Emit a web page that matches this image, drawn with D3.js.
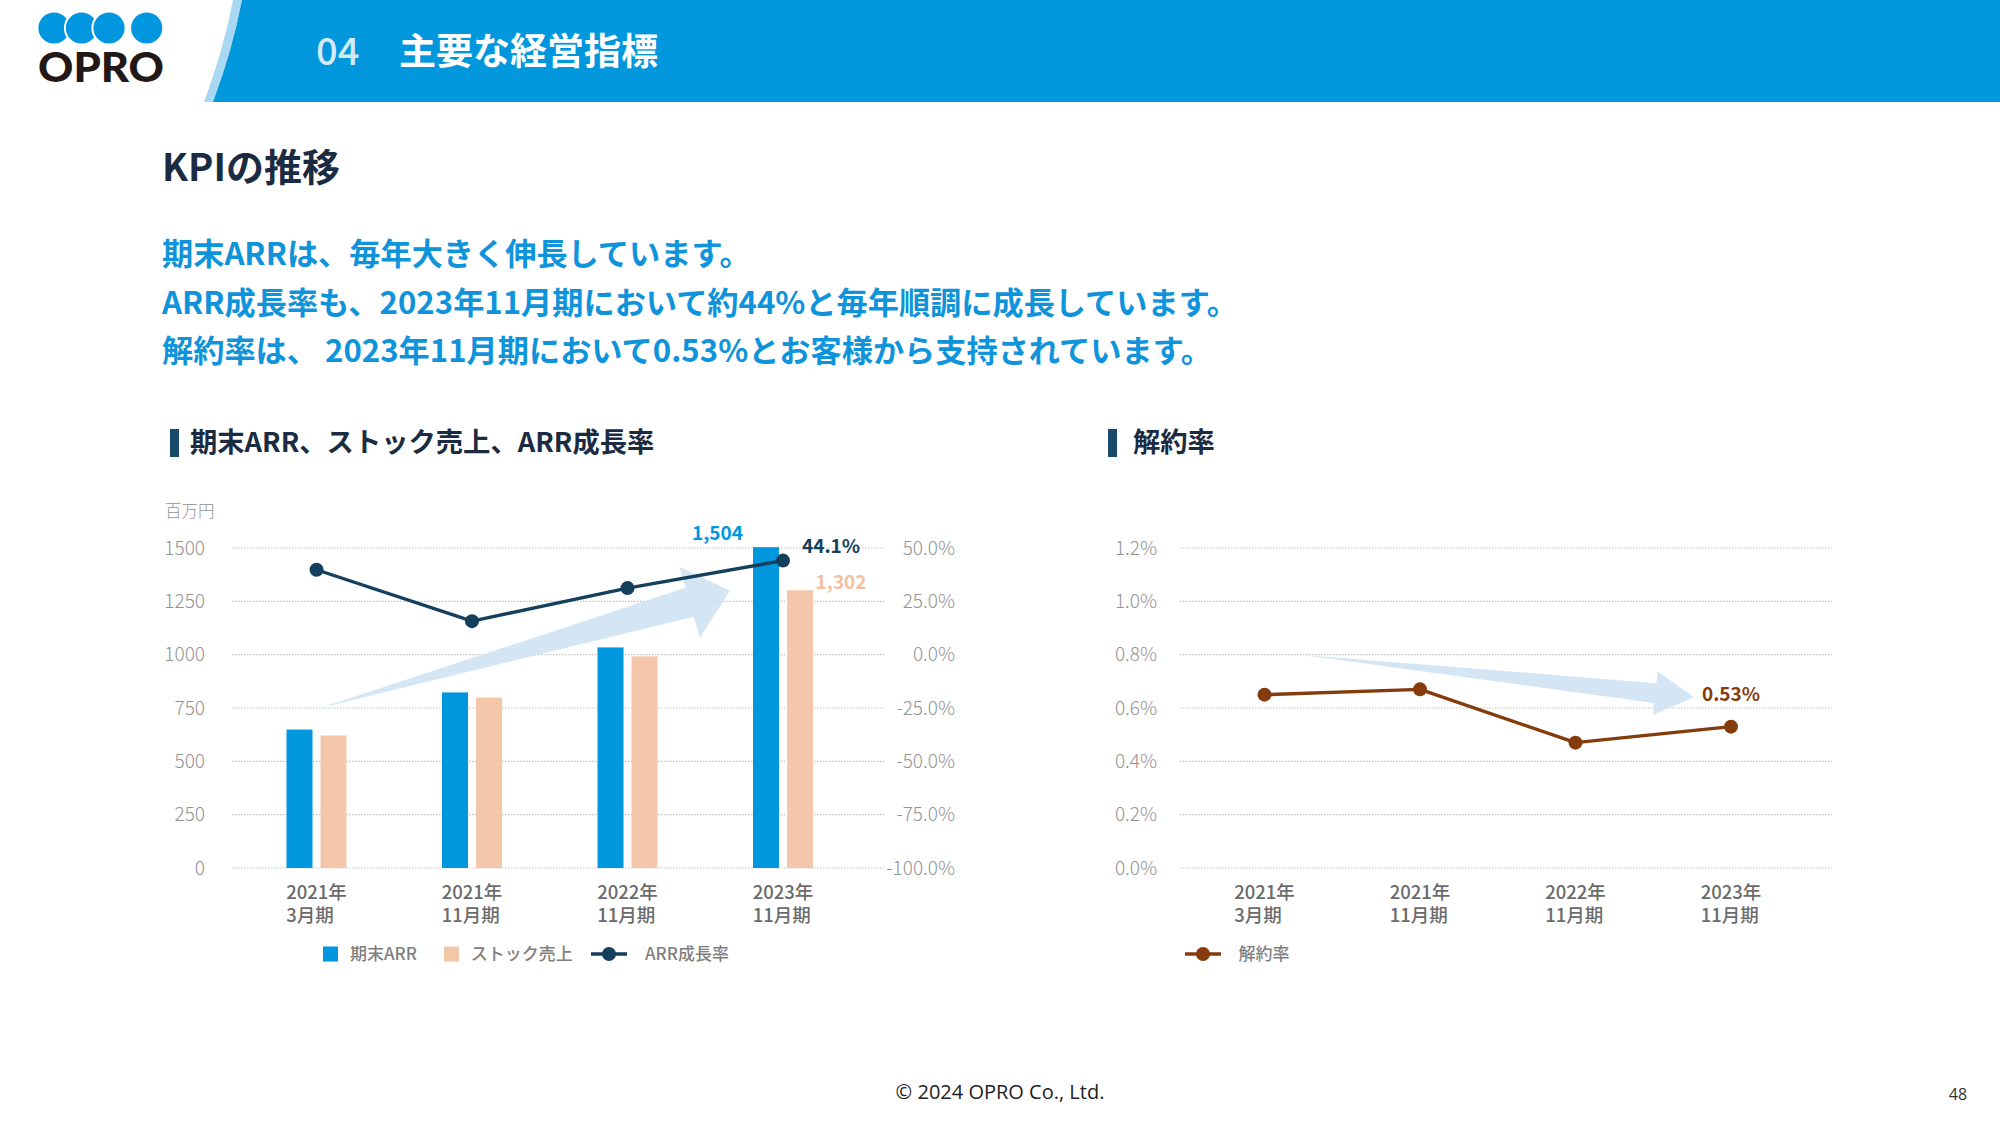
<!DOCTYPE html>
<html><head><meta charset="utf-8">
<script src="https://cdn.jsdelivr.net/npm/d3@7"></script>
<style>
body{margin:0;background:#fff;}
svg{display:block;font-family:"Noto Sans CJK JP","Noto Sans",sans-serif;}
</style></head><body>
<svg id="chart" width="2000" height="1125"></svg>
<script>
// ---------- data ----------
const categories = ["2021年\n3月期", "2021年\n11月期", "2022年\n11月期", "2023年\n11月期"];
const arrValues = [649, 823, 1034, 1504];      // 期末ARR (百万円)
const stockValues = [621, 799, 992, 1302];     // ストック売上 (百万円)
const arrGrowth = [39.8, 15.7, 31.2, 44.1];    // ARR成長率 (%)
const churnRate = [0.65, 0.67, 0.47, 0.53];    // 解約率 (%)
const amountTicks = [0, 250, 500, 750, 1000, 1250, 1500];
const growthTicks = [-100, -75, -50, -25, 0, 25, 50];
const churnTicks = [0, 0.2, 0.4, 0.6, 0.8, 1.0, 1.2];
const seriesNames = ["期末ARR", "ストック売上", "ARR成長率"];
const churnName = "解約率";
const headerTitle = ["04", "主要な経営指標"];
const pageTitle = "KPIの推移";
const leadLines = [
  "期末ARRは、毎年大きく伸長しています。",
  "ARR成長率も、2023年11月期において約44%と毎年順調に成長しています。",
  "解約率は、 2023年11月期において0.53%とお客様から支持されています。"
];
const sectionTitles = ["期末ARR、ストック売上、ARR成長率", "解約率"];
const unitLabel = "百万円";

// ---------- colours ----------
const C = {
  header: "#0097dd", strip: "#a8d8f2", navyText: "#1b2b42", lead: "#0f93da",
  secBar: "#174a6b", blue: "#0097df", peach: "#f4c7ab", navy: "#143f5d",
  brown: "#843c0c", grid: "#c4c4c4", axis: "#939393", xlab: "#6b6b6b",
  legend: "#7f7f7f", arrow: "#cfe2f3", logo: "#0096e0"
};
const JP = '"Noto Sans CJK JP","Noto Sans",sans-serif';

const svg = d3.select("#chart");
svg.append("rect").attr("width", 2000).attr("height", 1125).attr("fill", "#fff");

// ---------- header ----------
svg.append("path").attr("d", "M233,0 Q223.5,50 204,102 L213,102 Q232.5,50 242,0 Z").attr("fill", C.strip);
svg.append("path").attr("d", "M242,0 L2000,0 L2000,102 L213,102 Q232.5,50 242,0 Z").attr("fill", C.header);
[[54, 28], [81.5, 28], [109, 28], [146.7, 28]].forEach(p =>
  svg.append("circle").attr("cx", p[0]).attr("cy", p[1]).attr("r", 16.6)
    .attr("fill", C.logo).attr("stroke", "#fff").attr("stroke-width", 2));
svg.append("text").attr("x", 38).attr("y", 82).text("OPRO")
  .attr("font-family", "Lato,Inter,sans-serif").attr("font-weight", 900).attr("font-size", 41)
  .attr("fill", "#231815").attr("textLength", 126).attr("lengthAdjust", "spacingAndGlyphs");
svg.append("text").attr("x", 316).attr("y", 65).text(headerTitle[0])
  .attr("font-size", 38).attr("font-weight", 500).attr("fill", "#d3eaf8");
svg.append("text").attr("x", 399).attr("y", 65).text(headerTitle[1])
  .attr("font-size", 37).attr("font-weight", 700).attr("fill", "#fff");

// ---------- titles ----------
svg.append("text").attr("x", 162).attr("y", 181).text(pageTitle)
  .attr("font-size", 38).attr("font-weight", 700).attr("fill", C.navyText);
[265, 314, 362].forEach((y, i) =>
  svg.append("text").attr("x", 162).attr("y", y).text(leadLines[i])
    .attr("font-size", 31.2).attr("font-weight", 700).attr("fill", C.lead));

[[170, 190], [1108, 1133]].forEach((p, i) => {
  svg.append("rect").attr("x", p[0]).attr("y", 429).attr("width", 9).attr("height", 28).attr("fill", C.secBar);
  svg.append("text").attr("x", p[1]).attr("y", 452).text(sectionTitles[i])
    .attr("font-size", 27.3).attr("font-weight", 700).attr("fill", C.navyText);
});

// ---------- scales ----------
const yTop = 548, yBot = 868;
const L = {x0: 232, x1: 884}, R = {x0: 1180, x1: 1832};
const xL = d3.scalePoint().domain(categories).range([L.x0 + 84.5, L.x1 - 101]);
const xR = d3.scalePoint().domain(categories).range([R.x0 + 84.5, R.x1 - 101]);
const yAmt = d3.scaleLinear().domain([0, 1500]).range([yBot, yTop]);
const yGr = d3.scaleLinear().domain([-100, 50]).range([yBot, yTop]);
const yCh = d3.scaleLinear().domain([0, 1.2]).range([yBot, yTop]);

// gridlines
function grid(ticks, y, x0, x1) {
  svg.append("g").selectAll("line").data(ticks).join("line")
    .attr("x1", x0).attr("x2", x1).attr("y1", d => y(d)).attr("y2", d => y(d))
    .attr("stroke", C.grid).attr("stroke-width", 1.2).attr("stroke-dasharray", "1.5,1.5");
}
grid(amountTicks, yAmt, L.x0, L.x1);
grid(churnTicks, yCh, R.x0, R.x1);

function styleAxis(g) {
  g.attr("font-family", null).attr("font-size", null);
  g.select(".domain").remove();
  g.selectAll("text").attr("fill", C.axis).attr("font-family", JP)
    .attr("font-size", 19).attr("font-weight", 300);
}
svg.append("g").attr("transform", `translate(${L.x0},0)`)
  .call(d3.axisLeft(yAmt).tickValues(amountTicks).tickSize(0).tickPadding(27).tickFormat(d3.format("d")))
  .call(styleAxis);
svg.append("g").attr("transform", `translate(${L.x1},0)`)
  .call(d3.axisRight(yGr).tickValues(growthTicks).tickSize(0).tickFormat(d => d.toFixed(1) + "%"))
  .call(styleAxis)
  .call(g => g.selectAll("text").attr("text-anchor", "end").attr("x", 71));
svg.append("g").attr("transform", `translate(${R.x0},0)`)
  .call(d3.axisLeft(yCh).tickValues(churnTicks).tickSize(0).tickPadding(23).tickFormat(d => d.toFixed(1) + "%"))
  .call(styleAxis);
svg.append("text").attr("x", 165).attr("y", 517).text(unitLabel)
  .attr("font-size", 16.5).attr("font-weight", 300).attr("fill", C.axis);

// x labels (two lines, left aligned block centred under category)
function xLabels(x) {
  const g = svg.append("g").selectAll("text").data(categories).join("text")
    .attr("transform", d => `translate(${x(d)},0)`)
    .attr("font-size", 18.5).attr("font-weight", 500).attr("fill", C.xlab);
  g.each(function (d) {
    const t = d3.select(this);
    const parts = d.split("\n");
    const s1 = t.append("tspan").attr("y", 898.5).text(parts[0]);
    const w = s1.node().getComputedTextLength();
    s1.attr("x", -w / 2);
    t.append("tspan").attr("x", -w / 2).attr("y", 921.5).text(parts[1]);
  });
}
xLabels(xL);
xLabels(xR);

// ---------- background arrows ----------
function arrowPath(T, P, Lh, Hh, Sh) {
  const dx = P[0] - T[0], dy = P[1] - T[1], len = Math.hypot(dx, dy);
  const u = [dx / len, dy / len], n = [-u[1], u[0]];
  const N = [P[0] - u[0] * Lh, P[1] - u[1] * Lh];
  const pt = (s) => [N[0] + n[0] * s, N[1] + n[1] * s];
  const pts = [T, pt(Sh), pt(Hh), P, pt(-Hh), pt(-Sh)];
  return "M" + pts.map(p => p.join(",")).join("L") + "Z";
}
svg.append("path").attr("fill", C.arrow).attr("opacity", 0.9)
  .attr("d", arrowPath([xL(categories[0]) + 3.5, yAmt(750)], [xL(categories[3]) - 53, yAmt(1300)], 42, 37, 15));
svg.append("path").attr("fill", C.arrow).attr("opacity", 0.9)
  .attr("d", arrowPath([xR(categories[0]) + 36, yCh(0.8)], [xR(categories[3]) - 37, yCh(0.64)], 39, 22, 10));

// ---------- bars ----------
const bw = 26, hg = 4;
svg.append("g").selectAll("rect").data(categories).join("rect")
  .attr("x", d => xL(d) - hg - bw).attr("width", bw)
  .attr("y", (d, i) => yAmt(arrValues[i])).attr("height", (d, i) => yAmt(0) - yAmt(arrValues[i]))
  .attr("fill", C.blue);
svg.append("g").selectAll("rect").data(categories).join("rect")
  .attr("x", d => xL(d) + hg).attr("width", bw)
  .attr("y", (d, i) => yAmt(stockValues[i])).attr("height", (d, i) => yAmt(0) - yAmt(stockValues[i]))
  .attr("fill", C.peach);

// ---------- lines ----------
function lineSeries(x, y, vals, color) {
  const pts = categories.map((c, i) => [x(c), y(vals[i])]);
  svg.append("path").attr("d", d3.line()(pts)).attr("fill", "none")
    .attr("stroke", color).attr("stroke-width", 3.4).attr("stroke-linejoin", "round");
  svg.append("g").selectAll("circle").data(pts).join("circle")
    .attr("cx", d => d[0]).attr("cy", d => d[1]).attr("r", 7).attr("fill", color);
}
lineSeries(xL, yGr, arrGrowth, C.navy);
lineSeries(xR, yCh, churnRate, C.brown);

// ---------- data labels ----------
const last = categories[3];
svg.append("text").attr("x", xL(last) - hg - bw - 10).attr("y", yAmt(arrValues[3]) - 7)
  .attr("text-anchor", "end").text(d3.format(",")(arrValues[3]))
  .attr("font-size", 19).attr("font-weight", 700).attr("fill", C.blue);
svg.append("text").attr("x", xL(last) + hg + bw + 2.5).attr("y", yAmt(stockValues[3]) - 1)
  .text(d3.format(",")(stockValues[3]))
  .attr("font-size", 19).attr("font-weight", 700).attr("fill", "#f2bf9f");
svg.append("text").attr("x", xL(last) + 19).attr("y", yGr(arrGrowth[3]) - 7.5)
  .text(arrGrowth[3].toFixed(1) + "%")
  .attr("font-size", 19).attr("font-weight", 700).attr("fill", C.navy);
svg.append("text").attr("x", xR(last)).attr("y", yCh(churnRate[3]) - 26).attr("text-anchor", "middle")
  .text(churnRate[3].toFixed(2) + "%")
  .attr("font-size", 19).attr("font-weight", 700).attr("fill", C.brown);

// ---------- legends ----------
const ly = 954;
svg.append("rect").attr("x", L.x0 + 91).attr("y", ly - 7.5).attr("width", 15).attr("height", 15).attr("fill", C.blue);
svg.append("rect").attr("x", L.x0 + 212).attr("y", ly - 7.5).attr("width", 15).attr("height", 15).attr("fill", C.peach);
function legLine(x, color) {
  svg.append("line").attr("x1", x).attr("x2", x + 36).attr("y1", ly).attr("y2", ly)
    .attr("stroke", color).attr("stroke-width", 3.4);
  svg.append("circle").attr("cx", x + 18).attr("cy", ly).attr("r", 7).attr("fill", color);
}
legLine(L.x0 + 359, C.navy);
legLine(R.x0 + 5, C.brown);
[[L.x0 + 118, seriesNames[0]], [L.x0 + 238.7, seriesNames[1]], [L.x0 + 413, seriesNames[2]], [R.x0 + 58.5, churnName]]
  .forEach(p => svg.append("text").attr("x", p[0]).attr("y", ly + 6).text(p[1])
    .attr("font-size", 17).attr("font-weight", 500).attr("fill", C.legend));

// ---------- footer ----------
svg.append("text").attr("x", 1000).attr("y", 1099).attr("text-anchor", "middle")
  .text("© 2024 OPRO Co., Ltd.").attr("font-family", '"Open Sans",Lato,sans-serif')
  .attr("font-size", 20).attr("fill", "#222");
svg.append("text").attr("x", 1958).attr("y", 1100).attr("text-anchor", "middle").text("48")
  .attr("font-family", '"Open Sans",Lato,sans-serif').attr("font-size", 16).attr("fill", "#333");
</script>
</body></html>
